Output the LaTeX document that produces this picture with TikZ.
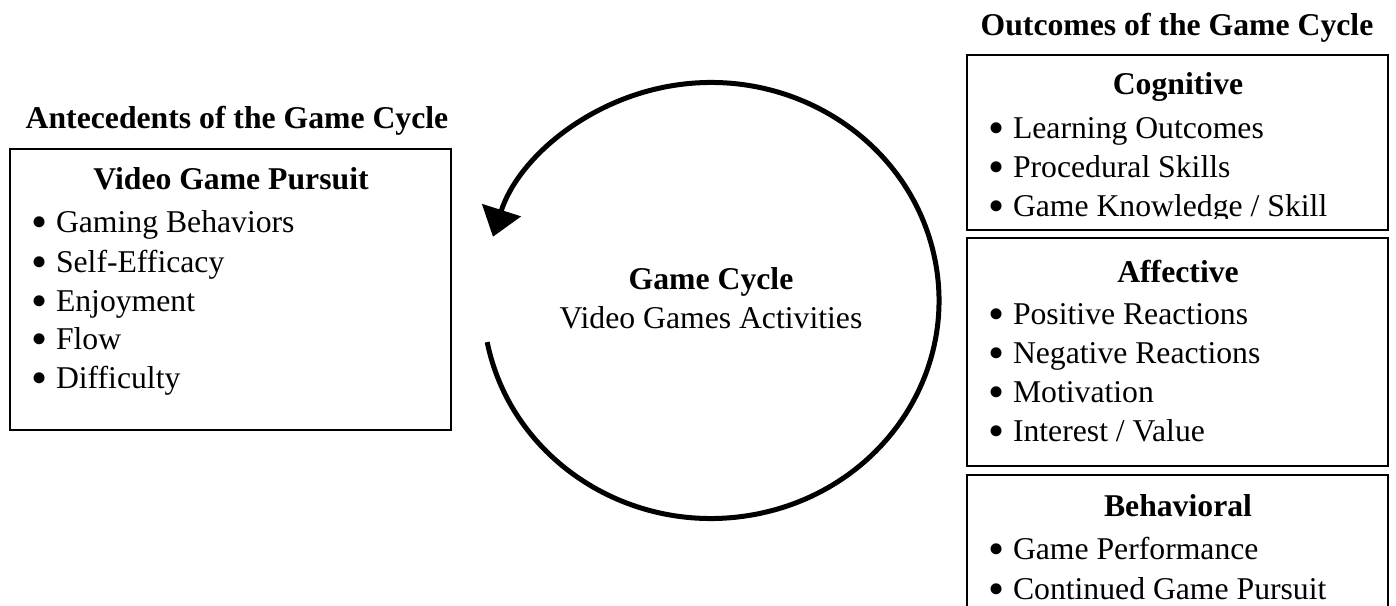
\documentclass[tikz,border=0pt]{standalone}
\usepackage{graphicx}
\usepackage{fontspec}
\setmainfont{Liberation Serif}
\usetikzlibrary{arrows.meta}
\newcommand{\bul}{\makebox[25pt][l]{\raisebox{-5pt}{\scalebox{1.45}{•}}}}
\begin{document}
\begin{tikzpicture}[x=1pt,y=1pt,
  box/.style={draw=black, line width=2.2pt},
  txt/.style={inner sep=0pt, outer sep=0pt, font=\fontsize{31.7}{38}\selectfont, anchor=base west},
  ttl/.style={inner sep=0pt, outer sep=0pt, font=\fontsize{31.7}{38}\selectfont\bfseries, anchor=base},
  cyc/.style={line width=5pt, -{Triangle[length=28pt,width=40pt]}}]
\useasboundingbox (0,0) rectangle (1396,605);
\clip (0,0) rectangle (1396,605);

% ---------- Antecedents ----------
\node[ttl] (antT) at (237,476) {Antecedents of the Game Cycle};
\draw[box] (10,175) rectangle (451,456);
\node[ttl] (vgp) at (231,415) {Video Game Pursuit};
\node[txt] (a1) at (31,372) {\bul Gaming Behaviors};
\node[txt] (a2) at (31,332) {\bul Self-Efficacy};
\node[txt] (a3) at (31,293) {\bul Enjoyment};
\node[txt] (a4) at (31,255) {\bul Flow};
\node[txt] (a5) at (31,216) {\bul Difficulty};

% ---------- Game cycle ----------
\node[ttl] (gc) at (711,315) {Game Cycle};
\node[txt, anchor=base] (gca) at (711,276) {Video Games Activities};
\coordinate (cstart) at ({711+228*cos(191)},{304.5+218*sin(191)});
\draw[cyc] (cstart) arc[start angle=191, end angle=523, x radius=228, y radius=218];

% ---------- Outcomes ----------
\node[ttl] (outT) at (1177,569) {Outcomes of the Game Cycle};

\draw[box] (967,375) rectangle (1388,550);
\node[ttl] (cog) at (1178,510) {Cognitive};
\node[txt] (c1) at (988,466) {\bul Learning Outcomes};
\node[txt] (c2) at (988,427) {\bul Procedural Skills};
\begin{scope}
  \clip (967,386.5) rectangle (1388,550);
  \node[txt] (c3) at (988,388) {\bul Game Knowledge / Skill};
\end{scope}

\draw[box] (967,139) rectangle (1388,367);
\node[ttl] (aff) at (1178,322) {Affective};
\node[txt] (f1) at (988,280) {\bul Positive Reactions};
\node[txt] (f2) at (988,241) {\bul Negative Reactions};
\node[txt] (f3) at (988,202) {\bul Motivation};
\node[txt] (f4) at (988,163) {\bul Interest / Value};

\draw[box] (967,-20) rectangle (1388,130);
\node[ttl] (beh) at (1178,89) {Behavioral};
\node[txt] (b1) at (988,46) {\bul Game Performance};
\node[txt] (b2) at (988,6) {\bul Continued Game Pursuit};
\end{tikzpicture}
\end{document}
